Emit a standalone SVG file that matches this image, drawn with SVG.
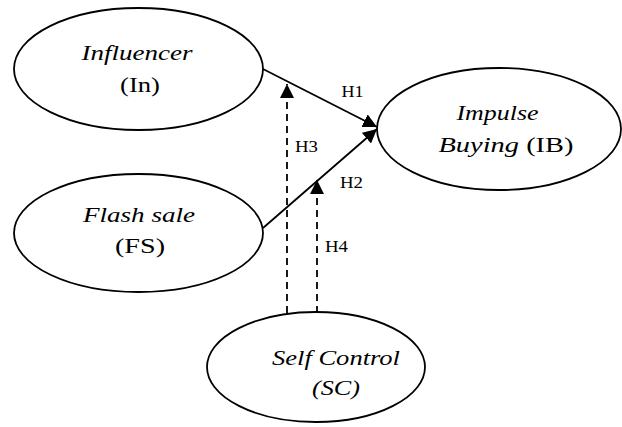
<svg xmlns="http://www.w3.org/2000/svg" width="622" height="427" viewBox="0 0 622 427" font-family="'Liberation Serif', 'Times New Roman', serif">
<style>
.node ellipse{fill:#fff;stroke:#000;stroke-width:1.8}
text{font-family:'Liberation Serif','Times New Roman',serif;fill:#000;text-anchor:middle}
.t{font-size:22px}
.i{font-style:italic}
.l{font-size:16px;text-anchor:start}
.c{stroke:#000;stroke-width:1.8;fill:none}
.d{stroke-dasharray:7,5}
</style>
<defs>
<marker id="ah" viewBox="0 0 14 14" refX="14" refY="7" markerWidth="14" markerHeight="14" markerUnits="userSpaceOnUse" orient="auto">
<path d="M0,0 L14,7 L0,14 Z" fill="#000"/>
</marker>
</defs>
<rect width="622" height="427" fill="#fff"/>
<g id="connectors">
<line class="c" x1="263" y1="69" x2="377" y2="127" marker-end="url(#ah)"/>
<line class="c" x1="263" y1="228" x2="377" y2="129" marker-end="url(#ah)"/>
<line class="c d" x1="287" y1="313" x2="287" y2="84" marker-end="url(#ah)"/>
<line class="c d" x1="317" y1="313" x2="317" y2="180" marker-end="url(#ah)"/>
<text class="l" x="341.5" y="97" textLength="22" lengthAdjust="spacingAndGlyphs">H1</text>
<text class="l" x="340" y="188" textLength="23" lengthAdjust="spacingAndGlyphs">H2</text>
<text class="l" x="295" y="152" textLength="23" lengthAdjust="spacingAndGlyphs">H3</text>
<text class="l" x="325" y="252" textLength="23" lengthAdjust="spacingAndGlyphs">H4</text>
</g>
<g id="influencer" class="node">
<ellipse cx="138.5" cy="69" rx="124.5" ry="61"/>
<text class="t i" x="137" y="60" textLength="111" lengthAdjust="spacingAndGlyphs">Influencer</text>
<text class="t" x="140" y="92" textLength="40" lengthAdjust="spacingAndGlyphs">(In)</text>
</g>
<g id="impulse" class="node">
<ellipse cx="499" cy="129" rx="122" ry="61"/>
<text class="t i" x="497.5" y="120" textLength="82" lengthAdjust="spacingAndGlyphs">Impulse</text>
<text class="t" x="506" y="152" textLength="135" lengthAdjust="spacingAndGlyphs"><tspan class="i">Buying</tspan> (IB)</text>
</g>
<g id="flashsale" class="node">
<ellipse cx="138.5" cy="233" rx="124.5" ry="59"/>
<text class="t i" x="139" y="221.5" textLength="112" lengthAdjust="spacingAndGlyphs">Flash sale</text>
<text class="t" x="140" y="253" textLength="50" lengthAdjust="spacingAndGlyphs">(FS)</text>
</g>
<g id="selfcontrol" class="node">
<ellipse cx="316" cy="367" rx="109" ry="55"/>
<text class="t i" x="336" y="365" textLength="128" lengthAdjust="spacingAndGlyphs">Self Control</text>
<text class="t i" x="336" y="395" textLength="48" lengthAdjust="spacingAndGlyphs">(SC)</text>
</g>
</svg>
